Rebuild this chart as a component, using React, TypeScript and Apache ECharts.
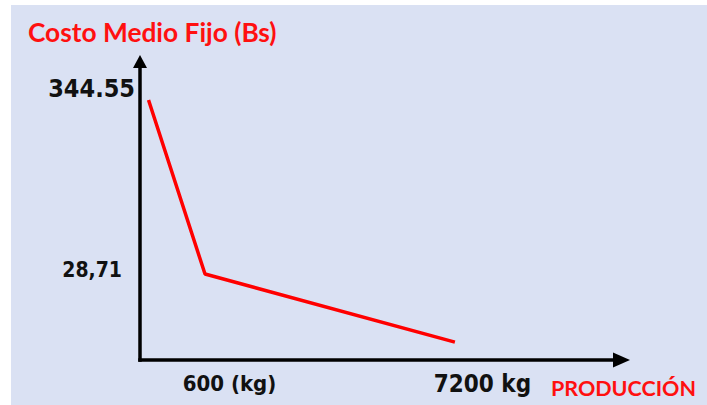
import React, { useEffect, useRef } from "react";
import * as echarts from "echarts";

// Schematic positions of the three points (percent of each axis)
const productionPos = [1.77, 13.5, 65.4];
const costPos = [87.1, 28.8, 6.0];

// Tick labels
const yTickLabels = ["344.55", "28,71"];
const xTickLabels = ["600 (kg)", "7200 kg"];

const yAxisTitle = "Costo Medio Fijo (Bs)";
const xAxisTitle = "PRODUCCIÓN";

function nearestIndex(arr: number[], v: number) {
  let best = 0;
  for (let i = 1; i < arr.length; i++) {
    if (Math.abs(arr[i] - v) < Math.abs(arr[best] - v)) best = i;
  }
  return best;
}

export default function App() {
  const ref = useRef<HTMLDivElement>(null);

  useEffect(() => {
    if (!ref.current) return;
    const chart = echarts.init(ref.current, null, { renderer: "svg" });
    const numFont = "'DejaVu Sans Condensed', 'DejaVu Sans', sans-serif";
    const redFont = "Lato, 'Open Sans', sans-serif";
    const seriesData = productionPos.map((x, i) => [x, costPos[i]]);
    const yTickValues = [costPos[0], costPos[1]];
    const xTickValues = [productionPos[1], productionPos[2]];

    chart.setOption({
      animation: false,
      backgroundColor: "#dae1f3",
      title: {
        text: yAxisTitle,
        left: 28,
        top: 19,
        padding: 0,
        textStyle: {
          color: "#ff1010",
          fontFamily: redFont,
          fontWeight: "bold",
          fontSize: 26.3,
        },
      },
      graphic: [
        { type: "rect", silent: true, shape: { x: 0, y: 0, width: 11, height: 405 }, style: { fill: "#ffffff" } },
        { type: "rect", silent: true, shape: { x: 0, y: 0, width: 707, height: 5 }, style: { fill: "#ffffff" } },
      ],
      grid: { left: 140, right: 85.5, top: 61.5, bottom: 45, containLabel: false },
      xAxis: {
        type: "value",
        min: 0,
        max: 100,
        splitLine: { show: false },
        axisTick: { show: false },
        axisLine: {
          show: true,
          symbol: ["none", "triangle"],
          symbolSize: [15, 17],
          lineStyle: { color: "#000", width: 3.5, cap: "square" },
        },
        axisLabel: {
          customValues: xTickValues,
          margin: 12,
          formatter: (v: number) => {
            const i = nearestIndex(xTickValues, v);
            return `{${i === 0 ? "c" : "d"}|${xTickLabels[i]}}`;
          },
          rich: {
            c: { fontFamily: numFont, fontWeight: "bold", fontSize: 22, color: "#111", padding: [0, 0, 0, 49] },
            d: { fontFamily: numFont, fontWeight: "bold", fontSize: 24, color: "#111", padding: [0, 0, 0, 55] },
          },
        },
        name: xAxisTitle,
        nameLocation: "end",
        nameGap: 74.5,
        nameTextStyle: {
          color: "#ff1010",
          fontFamily: redFont,
          fontWeight: "bold",
          fontSize: 21.5,
          align: "right",
          verticalAlign: "top",
          padding: [17, 0, 0, 0],
        },
      },
      yAxis: {
        type: "value",
        min: 0,
        max: 100,
        splitLine: { show: false },
        axisTick: { show: false },
        axisLine: {
          show: true,
          symbol: ["none", "triangle"],
          symbolSize: [14, 13],
          lineStyle: { color: "#000", width: 3.5, cap: "square" },
        },
        axisLabel: {
          customValues: yTickValues,
          margin: 5,
          formatter: (v: number) => {
            const i = nearestIndex(yTickValues, v);
            return `{${i === 0 ? "a" : "b"}|${yTickLabels[i]}}`;
          },
          rich: {
            a: { fontFamily: numFont, fontWeight: "bold", fontSize: 25, color: "#111", padding: [0, 0, 24, 0] },
            b: { fontFamily: numFont, fontWeight: "bold", fontSize: 21, color: "#111", padding: [0, 13, 9, 0] },
          },
        },
      },
      series: [
        {
          type: "line",
          data: seriesData,
          symbol: "none",
          lineStyle: { color: "#ff0000", width: 3.5 },
          z: 3,
        },
      ],
    });
    return () => chart.dispose();
  }, []);

  return (
    <div style={{ position: "fixed", left: 0, top: 0, width: 707, height: 405, background: "#fff" }}>
      <div ref={ref} style={{ width: 707, height: 405 }} />
    </div>
  );
}
